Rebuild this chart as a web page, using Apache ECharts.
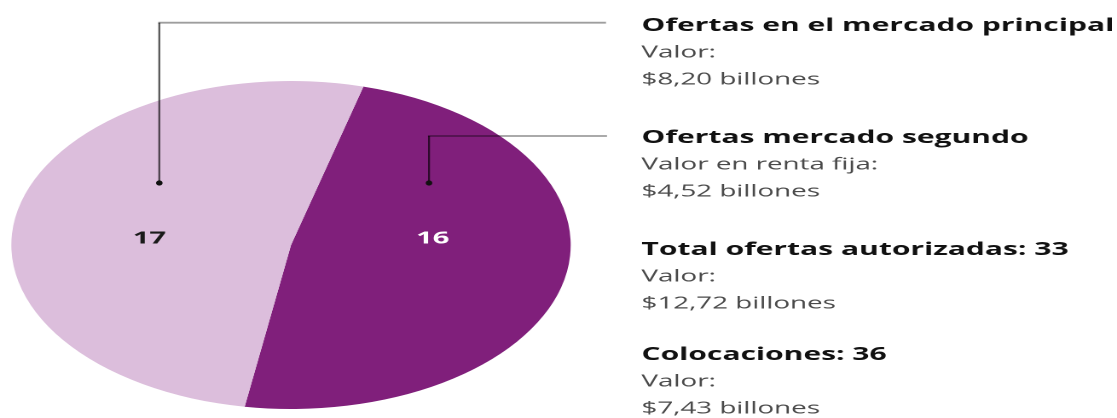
<!DOCTYPE html>
<html>
<head>
<meta charset="utf-8">
<script src="https://cdn.jsdelivr.net/npm/echarts@6/dist/echarts.min.js"></script>
<style>
  html, body { margin: 0; padding: 0; background: #ffffff; }
  #wrap { width: 1117px; height: 418px; overflow: hidden; position: relative; }
  #chart { width: 655px; height: 418px; transform-origin: 0 0; }
</style>
</head>
<body>
<div id="wrap"><div id="chart"></div></div>
<script>
// ---- data ----
const categories = ['Ofertas mercado segundo', 'Ofertas en el mercado principal'];
const counts = [16, 17];
const infoTitles = ['Ofertas en el mercado principal', 'Ofertas mercado segundo', 'Total ofertas autorizadas: 33', 'Colocaciones: 36'];
const infoLabels = ['Valor:', 'Valor en renta fija:', 'Valor:', 'Valor:'];
const infoValues = ['$8,20 billones', '$4,52 billones', '$12,72 billones', '$7,43 billones'];

// ---- styles / layout ----
const sliceColors = ['#801f7b', '#dcbedc'];
const labelColors = ['#ffffff', '#1a1a1a'];
const W = 1117, H = 418, IW = 655;
const S = W / IW;                       // horizontal stretch of the whole drawing
const ix = v => v / S;                  // visual x -> inner x
const el = document.getElementById('chart');
el.style.transform = 'scaleX(' + S + ')';
const chart = echarts.init(el, null, { renderer: 'canvas', devicePixelRatio: 2 });

const CX = ix(291), CY = 245, R = 164;
const FONT = '"Open Sans", "DejaVu Sans", sans-serif';

const graphics = [];
// leader lines (vertical segments then horizontal segments) and end dots
const leaders = [
  { x: ix(159.3), top: 22.7, dotY: 183, end: ix(606) },
  { x: ix(429), top: 136, dotY: 183, end: ix(607) }
];
leaders.forEach(l => {
  graphics.push({ type: 'line', z: 10, shape: { x1: l.x, y1: l.dotY, x2: l.x, y2: l.top },
    style: { stroke: 'rgba(0,0,0,0.65)', lineWidth: 1.15 } });
  graphics.push({ type: 'line', z: 10, shape: { x1: l.x - 0.6, y1: l.top, x2: l.end, y2: l.top },
    style: { stroke: 'rgba(0,0,0,0.38)', lineWidth: 1.8 } });
  graphics.push({ type: 'ellipse', z: 11, shape: { cx: l.x, cy: l.dotY, rx: 1.9, ry: 2.6 },
    style: { fill: '#111111' } });
});

// info text blocks
const TX = ix(641.5);
const blockBase = [31, 143, 255, 360];
const step = 26.8;
const BOLD = 17.6, REG = 16.3;
infoTitles.forEach((t, i) => {
  const b = blockBase[i];
  graphics.push({ type: 'text', z: 12, style: { text: t, x: TX, y: b - 0.29 * BOLD,
    font: 'bold ' + BOLD + 'px ' + FONT, fill: '#111111', textAlign: 'left', textVerticalAlign: 'middle' } });
  graphics.push({ type: 'text', z: 12, style: { text: infoLabels[i], x: TX, y: b + step - 0.29 * REG,
    font: REG + 'px ' + FONT, fill: '#4a4a4a', textAlign: 'left', textVerticalAlign: 'middle' } });
  graphics.push({ type: 'text', z: 12, style: { text: infoValues[i], x: TX, y: b + 2 * step - 0.29 * REG,
    font: REG + 'px ' + FONT, fill: '#4a4a4a', textAlign: 'left', textVerticalAlign: 'middle' } });
});

const LABEL_Y = 238.5;
chart.setOption({
  animation: false,
  backgroundColor: '#ffffff',
  graphic: { elements: graphics },
  series: [{
    type: 'pie',
    center: [CX, CY],
    radius: [0, R],
    startAngle: 75,
    clockwise: true,
    silent: true,
    itemStyle: { borderWidth: 0 },
    label: {
      show: true,
      position: 'inside',
      formatter: '{c}',
      fontFamily: FONT,
      fontWeight: 'bold',
      fontSize: 17
    },
    labelLine: { show: false },
    labelLayout: function (p) {
      const r = p.labelRect;
      return { dy: LABEL_Y - (r.y + r.height / 2) };
    },
    data: categories.map((c, i) => ({
      name: c,
      value: counts[i],
      itemStyle: { color: sliceColors[i] },
      label: { color: labelColors[i] }
    }))
  }]
});
</script>
</body>
</html>
